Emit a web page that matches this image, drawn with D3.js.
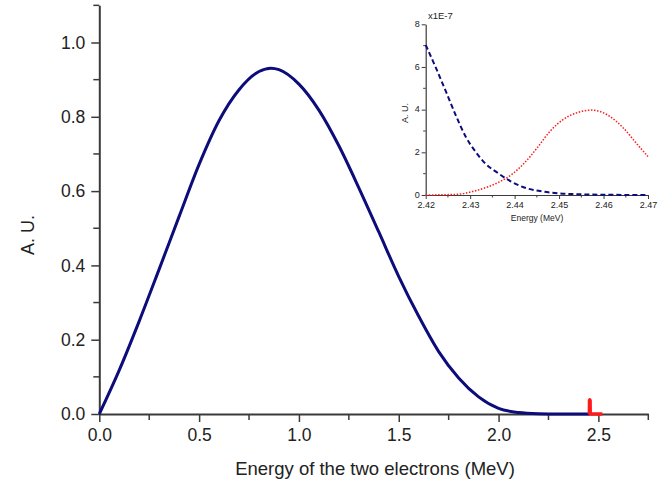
<!DOCTYPE html>
<html>
<head>
<meta charset="utf-8">
<script src="https://cdn.jsdelivr.net/npm/d3@7"></script>
<style>
  html, body { margin: 0; padding: 0; background: #fff; }
  svg { display: block; font-family: "Liberation Sans", Arial, sans-serif; }
  .axis path, .axis line { stroke: #3a3a3a; }
  .axis text { fill: #222; }
</style>
</head>
<body>
<svg id="chart" width="670" height="486"></svg>
<script>
// Summed two-electron energy spectrum (arbitrary units)
const spectrumEnergy = [0, 0.1, 0.2, 0.3, 0.4, 0.5, 0.6, 0.7, 0.8, 0.86, 0.9, 1.0, 1.1, 1.2, 1.3,
  1.4, 1.5, 1.6, 1.7, 1.8, 1.9, 2.0, 2.1, 2.2, 2.3, 2.456];
const spectrumValue = [0, 0.118, 0.25, 0.39, 0.532, 0.672, 0.79, 0.873, 0.922, 0.931, 0.927, 0.888,
  0.818, 0.722, 0.609, 0.49, 0.37, 0.263, 0.168, 0.097, 0.046, 0.015, 0.004, 0.0008, 0, 0];

// Peak at the endpoint, drawn in red on the main panel
const peakEnergy = [2.455, 2.4555, 2.457, 2.4585, 2.459, 2.47, 2.52];
const peakValue  = [0, 0.036, 0.038, 0.036, 0, 0, 0];

// Zoom on the endpoint region (values in units of 1E-7)
const zoomEnergyBlue = [2.42, 2.4225, 2.4247, 2.4269, 2.429, 2.4312, 2.4334, 2.4363, 2.4392, 2.4428,
  2.4464, 2.45, 2.455, 2.461, 2.47];
const zoomBlue = [7.03, 5.86, 4.77, 3.67, 2.73, 2.03, 1.48, 1.02, 0.63, 0.31, 0.16, 0.08, 0.03, 0.01, 0];
const zoomEnergyRed = [2.42, 2.4269, 2.4305, 2.4341, 2.437, 2.4392, 2.4421, 2.445, 2.4479, 2.4508,
  2.4537, 2.4573, 2.4609, 2.4645, 2.4674, 2.47];
const zoomRed = [0, 0.03, 0.16, 0.39, 0.66, 0.94, 1.48, 2.19, 2.97, 3.52, 3.83, 3.98, 3.75, 3.13, 2.42, 1.80];

// Tick values
const mainXTicks = [0, 0.5, 1.0, 1.5, 2.0, 2.5];
const mainXMinor = [0.25, 0.75, 1.25, 1.75, 2.25, 2.75];
const mainYTicks = [0, 0.2, 0.4, 0.6, 0.8, 1.0];
const mainYMinor = [0.1, 0.3, 0.5, 0.7, 0.9, 1.1];
const zoomXTicks = [2.42, 2.43, 2.44, 2.45, 2.46, 2.47];
const zoomXMinor = [2.425, 2.435, 2.445, 2.455, 2.465];
const zoomYTicks = [0, 2, 4, 6, 8];
const zoomYMinor = [1, 3, 5, 7];

const svg = d3.select("#chart");
const navy = "#0c0c7a";
const red = "#ff1a1a";

// ---------- main panel ----------
const x = d3.scaleLinear().domain([0, 2.75]).range([99.3, 648.3]);
const y = d3.scaleLinear().domain([0, 1.1]).range([414, 5.35]);

const gx = svg.append("g").attr("class", "axis").attr("transform", `translate(0,${y(0)})`);
gx.call(d3.axisBottom(x).tickValues(mainXTicks).tickFormat(d3.format(".1f")).tickSize(8).tickSizeOuter(0))
  .call(g => g.select(".domain").attr("stroke-width", 2))
  .call(g => g.selectAll(".tick line").attr("stroke-width", 1.5))
  .call(g => g.selectAll("text").attr("font-size", 17.5).attr("dy", "0.85em").attr("y", 12));
gx.selectAll(".minor").data(mainXMinor).enter().append("line")
  .attr("x1", d => x(d)).attr("x2", d => x(d)).attr("y1", 0).attr("y2", 6)
  .attr("stroke", "#3a3a3a").attr("stroke-width", 1.5);

const gy = svg.append("g").attr("class", "axis").attr("transform", `translate(${x(0)},0)`);
gy.call(d3.axisLeft(y).tickValues(mainYTicks).tickFormat(d3.format(".1f")).tickSize(8).tickSizeOuter(0))
  .call(g => g.select(".domain").attr("stroke-width", 2))
  .call(g => g.selectAll(".tick line").attr("stroke-width", 1.5))
  .call(g => g.selectAll("text").attr("font-size", 17.5).attr("x", -14));
gy.selectAll(".minor").data(mainYMinor).enter().append("line")
  .attr("x1", 0).attr("x2", -6).attr("y1", d => y(d)).attr("y2", d => y(d))
  .attr("stroke", "#3a3a3a").attr("stroke-width", 1.5);

svg.append("text").attr("x", 375).attr("y", 475).attr("text-anchor", "middle")
  .attr("font-size", 18.5).attr("fill", "#222").text("Energy of the two electrons (MeV)");
svg.append("text").attr("transform", "translate(34,235) rotate(-90)").attr("text-anchor", "middle")
  .attr("font-size", 18).attr("fill", "#222").text("A. U.");

const mainLine = d3.line().x(d => x(d[0])).y(d => y(d[1])).curve(d3.curveMonotoneX);
svg.append("path").datum(d3.zip(spectrumEnergy, spectrumValue)).attr("d", mainLine)
  .attr("fill", "none").attr("stroke", navy).attr("stroke-width", 3);
svg.append("path").datum(d3.zip(peakEnergy, peakValue)).attr("d", d3.line().x(d => x(d[0])).y(d => y(d[1])))
  .attr("fill", "none").attr("stroke", red).attr("stroke-width", 3.5).attr("stroke-linejoin", "round");

// ---------- inset ----------
const ix = d3.scaleLinear().domain([2.42, 2.47]).range([425.7, 648]);
const iy = d3.scaleLinear().domain([0, 8]).range([195, 24.3]);

const igx = svg.append("g").attr("class", "axis").attr("transform", `translate(0,${iy(0)})`);
igx.call(d3.axisBottom(ix).tickValues(zoomXTicks).tickFormat(d3.format(".2f")).tickSize(4).tickSizeOuter(0))
  .call(g => g.select(".domain").attr("stroke-width", 1.2))
  .call(g => g.selectAll("text").attr("font-size", 9).attr("y", 6.5));
igx.selectAll(".minor").data(zoomXMinor).enter().append("line")
  .attr("x1", d => ix(d)).attr("x2", d => ix(d)).attr("y1", 0).attr("y2", 2.5)
  .attr("stroke", "#3a3a3a");

const igy = svg.append("g").attr("class", "axis").attr("transform", `translate(${ix(2.42)},0)`);
igy.call(d3.axisLeft(iy).tickValues(zoomYTicks).tickFormat(d3.format("d")).tickSize(4).tickSizeOuter(0))
  .call(g => g.select(".domain").attr("stroke-width", 1.2))
  .call(g => g.selectAll("text").attr("font-size", 9).attr("x", -6).attr("dy", "0.25em"));
igy.selectAll(".minor").data(zoomYMinor).enter().append("line")
  .attr("x1", 0).attr("x2", -2.5).attr("y1", d => iy(d)).attr("y2", d => iy(d))
  .attr("stroke", "#3a3a3a");

svg.append("text").attr("x", 428).attr("y", 19).attr("font-size", 9.5).attr("fill", "#222").text("x1E-7");
svg.append("text").attr("x", 537).attr("y", 221).attr("text-anchor", "middle")
  .attr("font-size", 8.5).attr("fill", "#222").text("Energy (MeV)");
svg.append("text").attr("transform", "translate(408,113) rotate(-90)").attr("text-anchor", "middle")
  .attr("font-size", 9).attr("fill", "#222").text("A. U.");

const insetLine = d3.line().x(d => ix(d[0])).y(d => iy(d[1])).curve(d3.curveMonotoneX);
svg.append("path").datum(d3.zip(zoomEnergyBlue, zoomBlue)).attr("d", insetLine)
  .attr("fill", "none").attr("stroke", navy).attr("stroke-width", 2).attr("stroke-dasharray", "5,3");
svg.append("path").datum(d3.zip(zoomEnergyRed, zoomRed)).attr("d", insetLine)
  .attr("fill", "none").attr("stroke", red).attr("stroke-width", 1.5).attr("stroke-dasharray", "1.5,1.6");
</script>
</body>
</html>
